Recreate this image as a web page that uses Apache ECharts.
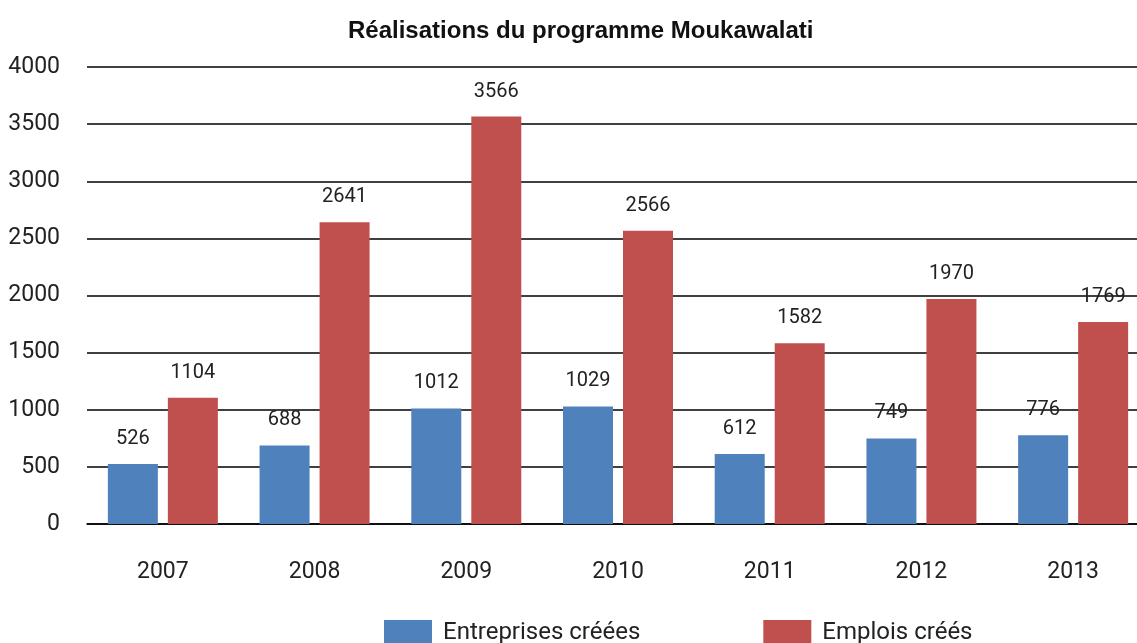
<!DOCTYPE html>
<html>
<head>
<meta charset="utf-8">
<script src="https://cdn.jsdelivr.net/npm/echarts@6/dist/echarts.min.js"></script>
<style>
  html, body { margin: 0; padding: 0; background: #fff; }
  #chart { width: 1137px; height: 643px; }
</style>
</head>
<body>
<div id="chart"></div>
<script>
var years = ['2007', '2008', '2009', '2010', '2011', '2012', '2013'];
var entreprises = [526, 688, 1012, 1029, 612, 749, 776];
var emplois = [1104, 2641, 3566, 2566, 1582, 1970, 1769];

var chart = echarts.init(document.getElementById('chart'));
var font = 'Roboto, "Liberation Sans", sans-serif';

var labelStyle = {
    show: true,
    position: 'top',
    distance: 15,
    fontSize: 20,
    color: '#222',
    fontFamily: font
};

var option = {
    animation: false,
    title: {
        text: 'Réalisations du programme Moukawalati',
        left: 343,
        top: 14,
        textStyle: { fontSize: 24, fontWeight: 'bold', color: '#111', fontFamily: '"Liberation Sans", Arial, sans-serif' }
    },
    legend: {
        bottom: -7,
        left: 379,
        itemWidth: 48,
        itemHeight: 25,
        itemGap: 123,
        icon: 'rect',
        textStyle: { fontSize: 24, color: '#222', fontFamily: font, padding: [0, 0, 0, 6] }
    },
    // plot runs past the right edge, like the cropped original
    grid: { left: 87, right: -12, top: 67, bottom: 119, outerBoundsMode: 'none' },
    xAxis: {
        type: 'category',
        data: years,
        axisLine: { lineStyle: { color: '#000', width: 1.5 } },
        axisTick: { show: false },
        axisLabel: { fontSize: 23, color: '#222', margin: 37, fontFamily: font }
    },
    yAxis: {
        type: 'value',
        min: 0,
        max: 4000,
        interval: 500,
        axisLine: { show: false },
        axisTick: { show: false },
        axisLabel: {
            fontSize: 23, color: '#222', margin: 27, fontFamily: font,
            formatter: function (v) { return String(v); }
        },
        splitLine: { lineStyle: { color: '#000', width: 1.5 } }
    },
    series: [
        {
            name: 'Entreprises créées',
            type: 'bar',
            data: entreprises,
            barWidth: 50,
            barGap: '20%',
            itemStyle: { color: '#4f81bd' },
            label: labelStyle
        },
        {
            name: 'Emplois créés',
            type: 'bar',
            data: emplois,
            barWidth: 50,
            itemStyle: { color: '#c0504d' },
            label: labelStyle
        }
    ]
};

chart.setOption(option);
</script>
</body>
</html>
